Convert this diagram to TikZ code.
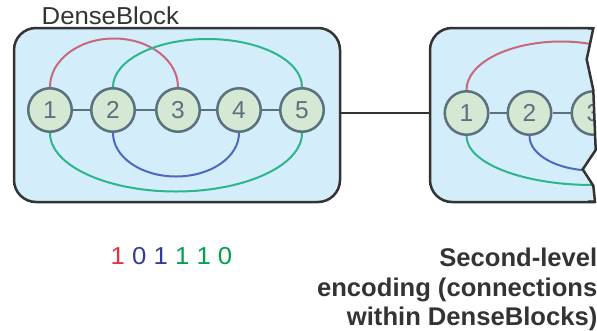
\documentclass[tikz,border=0pt]{standalone}
\usepackage{fontspec}
\setmainfont{Liberation Sans}
\newfontfamily\widesans[FakeStretch=1.05]{Liberation Sans}
\usetikzlibrary{calc}

\definecolor{blockfill}{RGB}{212,237,250}
\definecolor{blockline}{RGB}{51,51,51}
\definecolor{cellfill}{RGB}{213,232,212}
\definecolor{cellline}{RGB}{91,113,126}
\definecolor{arcred}{RGB}{200,104,124}
\definecolor{arcgreen}{RGB}{46,181,140}
\definecolor{arcblue}{RGB}{78,104,192}
\definecolor{bitred}{RGB}{232,48,60}
\definecolor{bitblue}{RGB}{50,60,150}
\definecolor{bitgreen}{RGB}{0,160,80}
\definecolor{textdark}{RGB}{51,51,51}

% Half-elliptic skip connection between two points on the same level.
% #1 style, #2 start, #3 end, #4 height of the bow in pt (positive = up).
\newcommand{\bowlink}[4]{%
  \draw[#1] let \p1=(#2), \p2=(#3), \n1={0.5*(\x2-\x1)}, \n2={#4} in
    (\p1) .. controls (\x1, \y1+0.5523*\n2) and (\x1+0.4477*\n1, \y1+\n2)
          .. (\x1+\n1, \y1+\n2)
          .. controls (\x1+1.5523*\n1, \y1+\n2) and (\x2, \y2+0.5523*\n2)
          .. (\p2);}

\begin{document}
\begin{tikzpicture}[x=1pt,y=-1pt,
  blockbox/.style={rectangle, draw=blockline, fill=blockfill, line width=2.5pt,
    rounded corners=22pt, inner sep=0pt},
  cellnode/.style={circle, draw=cellline, fill=cellfill, line width=2.5pt,
    minimum size=43.5pt, inner sep=0pt, text=cellline,
    font=\fontsize{24.5}{24.5}\selectfont},
  chain/.style={draw=cellline, line width=2.5pt},
  bowline/.style={line width=2pt},
  wire/.style={draw=blockline, line width=2pt},
  plainlabel/.style={inner sep=0pt, text=textdark,
    font=\widesans\fontsize{24.5}{29}\selectfont},
  caption/.style={anchor=base east, inner sep=0pt, text=textdark,
    font=\bfseries\fontsize{25.6}{30}\selectfont}]
\useasboundingbox (0,0) rectangle (597,330);

% ---------- first DenseBlock ----------
\node[blockbox, minimum width=326pt, minimum height=174pt] (blockA) at (177,115) {};
\node[cellnode] (n1) at (50,110) {1};
\node[cellnode] (n2) at (113,110) {2};
\node[cellnode] (n3) at (178,110) {3};
\node[cellnode] (n4) at (239,110) {4};
\node[cellnode] (n5) at (302,110) {5};
\draw[chain] (n1) -- (n2);
\draw[chain] (n2) -- (n3);
\draw[chain] (n3) -- (n4);
\draw[chain] (n4) -- (n5);
\bowlink{bowline, arcred}{n1.north}{n3.north}{48.5}
\bowlink{bowline, arcgreen}{n2.north}{n5.north}{48}
\bowlink{bowline, arcgreen}{n1.south}{n5.south}{-58.5}
\bowlink{bowline, arcblue}{n2.south}{n4.south}{-43.5}

\node[plainlabel, anchor=base west] (title) at (41.5,24.3) {DenseBlock};

% ---------- second DenseBlock, torn off on the right ----------
\begin{scope}
\clip (400,0) -- (593.3,0) -- (593.3,28.3) -- (586.7,59.3) -- (593.3,90)
  -- (595.7,150) -- (582.7,169.3) -- (593.3,185.7) -- (595,201.7)
  -- (595,220) -- (400,220) -- cycle;
\node[blockbox, minimum width=220pt, minimum height=174pt] (blockB) at (540,115) {};
\node[cellnode] (m1) at (466.5,113) {1};
\node[cellnode] (m2) at (529.5,113) {2};
\node[cellnode] (m3) at (593.5,113) {3};
\coordinate (m4top) at (656,91.25);
\coordinate (m4bot) at (656,134.75);
\coordinate (m5bot) at (719,134.75);
\draw[chain] (m1) -- (m2);
\draw[chain] (m2) -- (m3);
\bowlink{bowline, arcred}{m1.north}{m4top}{48.5}
\bowlink{bowline, arcgreen}{m1.south}{m5bot}{-49}
\bowlink{bowline, arcblue}{m2.south}{m4bot}{-34.5}
\end{scope}
\draw[blockline, line width=2.5pt, line join=miter]
  (588,28.3) -- (593.3,28.3) -- (586.7,59.3) -- (593.3,90) -- (595.7,150)
  -- (582.7,169.3) -- (593.3,185.7) -- (595,201.7) -- (588,201.7);

% ---------- link between the blocks ----------
\draw[wire] (blockA.east |- m1) -- (blockB.west |- m1);

% ---------- encoding ----------
\node[plainlabel, anchor=base west] (bits) at (110.5,264.3)
  {\textcolor{bitred}{1} \textcolor{bitblue}{0} \textcolor{bitblue}{1}
   \textcolor{bitgreen}{1} \textcolor{bitgreen}{1} \textcolor{bitgreen}{0}};

\node[caption] (cap1) at (597.5,266.7) {Second-level};
\node[caption] (cap2) at (597.5,296.5) {encoding (connections};
\node[caption] (cap3) at (597.5,325.5) {within DenseBlocks)};
\end{tikzpicture}
\end{document}
